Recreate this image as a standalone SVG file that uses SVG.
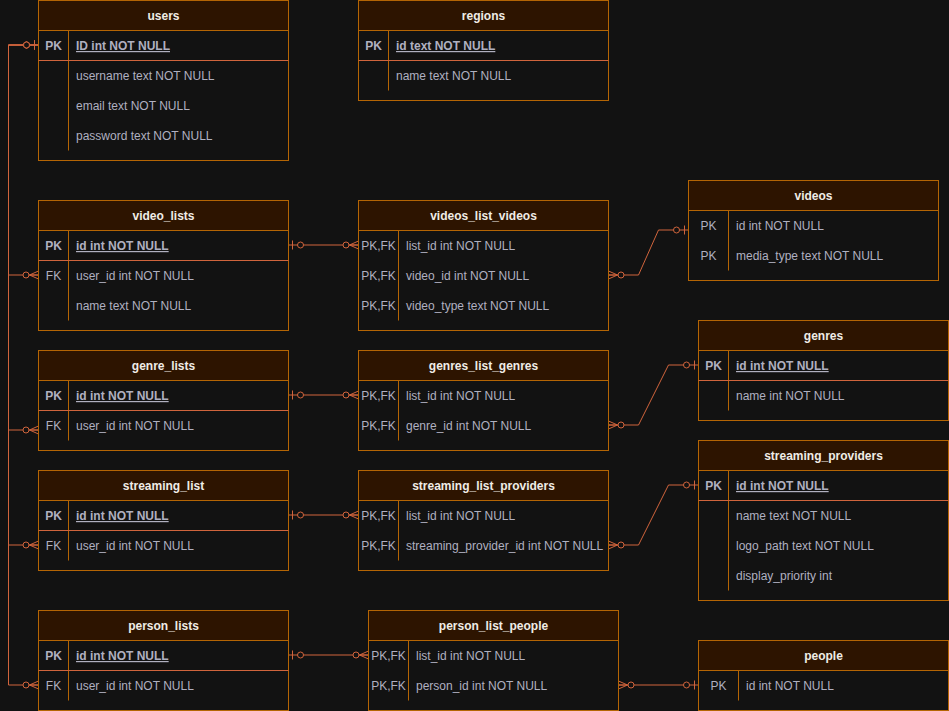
<svg xmlns="http://www.w3.org/2000/svg" width="949" height="711" viewBox="0 0 949 711">
<style>
.bg{fill:#121212}
.tb{fill:#121212;stroke:#b46504;stroke-width:1}
.hd{fill:#2d1400;stroke:#b46504;stroke-width:1}
.dv{stroke:#b46504;stroke-width:1;fill:none}
.sp{stroke:#d0643c;stroke-width:1;fill:none}
.ht{font-family:"Liberation Sans",Arial,sans-serif;font-size:12px;font-weight:bold;fill:#f0ece6;text-anchor:middle}
.t{font-family:"Liberation Sans",Arial,sans-serif;font-size:12px;fill:#b0b0c0}
.k{text-anchor:middle}
.b{font-weight:bold}
.u{text-decoration:underline}
.cn{stroke:#d0643c;stroke-width:1;fill:none;marker-start:url(#zo);marker-end:url(#zm)}
.cn2{stroke:#d0643c;stroke-width:1;fill:none;marker-start:url(#zm);marker-end:url(#zo)}
</style>
<defs>
<marker id="zm" viewBox="-17 -6 18 12" refX="0" refY="0" markerWidth="18" markerHeight="12" markerUnits="userSpaceOnUse" orient="auto-start-reverse">
<path d="M-9,0 L0,-4 M-9,0 L0,4 M-9,0 L0,0" stroke="#d0643c" stroke-width="1" fill="none"/>
<circle cx="-12.5" cy="0" r="3" fill="#121212" stroke="#d0643c" stroke-width="1"/>
</marker>
<marker id="zo" viewBox="-17 -6 18 12" refX="0" refY="0" markerWidth="18" markerHeight="12" markerUnits="userSpaceOnUse" orient="auto-start-reverse">
<path d="M-4,-4.5 L-4,4.5" stroke="#d0643c" stroke-width="1" fill="none"/>
<circle cx="-12" cy="0" r="3" fill="#121212" stroke="#d0643c" stroke-width="1"/>
</marker>
</defs>
<rect class="bg" x="0" y="0" width="949" height="711"/>

<g id="connectors">
<path class="cn" d="M38.5,45 H8.5 V275 H38.5"/>
<path class="cn" d="M38.5,45 H8.5 V430 H38.5"/>
<path class="cn" d="M38.5,45 H8.5 V545 H38.5"/>
<path class="cn" d="M38.5,45 H8.5 V685 H38.5"/>
<path class="cn" d="M288.5,245 H358.5"/>
<path class="cn2" d="M608.5,275 H638.5 L658.5,230 H688.5"/>
<path class="cn" d="M288.5,395 H358.5"/>
<path class="cn2" d="M608.5,425 H638.5 L668.5,365 H698.5"/>
<path class="cn" d="M288.5,515 H358.5"/>
<path class="cn2" d="M608.5,545 H638.5 L668.5,485 H698.5"/>
<path class="cn" d="M288.5,655 H368.5"/>
<path class="cn2" d="M618.5,685 H698.5"/>
</g>

<g id="users">
<rect class="tb" x="38.5" y="0.5" width="250" height="160"/>
<rect class="hd" x="38.5" y="0.5" width="250" height="30"/>
<text class="ht" x="163.5" y="20">users</text>
<line class="dv" x1="68.5" y1="30.5" x2="68.5" y2="150.5"/>
<line class="sp" x1="38.5" y1="60.5" x2="288.5" y2="60.5"/>
<text class="t k b" x="53.5" y="50">PK</text>
<text class="t b u" x="76" y="50">ID int NOT NULL</text>
<text class="t" x="76" y="80">username text NOT NULL</text>
<text class="t" x="76" y="110">email text NOT NULL</text>
<text class="t" x="76" y="140">password text NOT NULL</text>
</g>

<g id="regions">
<rect class="tb" x="358.5" y="0.5" width="250" height="100"/>
<rect class="hd" x="358.5" y="0.5" width="250" height="30"/>
<text class="ht" x="483.5" y="20">regions</text>
<line class="dv" x1="388.5" y1="30.5" x2="388.5" y2="90.5"/>
<line class="sp" x1="358.5" y1="60.5" x2="608.5" y2="60.5"/>
<text class="t k b" x="373.5" y="50">PK</text>
<text class="t b u" x="396" y="50">id text NOT NULL</text>
<text class="t" x="396" y="80">name text NOT NULL</text>
</g>

<g id="videos">
<rect class="tb" x="688.5" y="180.5" width="250" height="100"/>
<rect class="hd" x="688.5" y="180.5" width="250" height="30"/>
<text class="ht" x="813.5" y="200">videos</text>
<line class="dv" x1="728.5" y1="210.5" x2="728.5" y2="270.5"/>
<text class="t k" x="708.5" y="230">PK</text>
<text class="t" x="736" y="230">id int NOT NULL</text>
<text class="t k" x="708.5" y="260">PK</text>
<text class="t" x="736" y="260">media_type text NOT NULL</text>
</g>

<g id="video_lists">
<rect class="tb" x="38.5" y="200.5" width="250" height="130"/>
<rect class="hd" x="38.5" y="200.5" width="250" height="30"/>
<text class="ht" x="163.5" y="220">video_lists</text>
<line class="dv" x1="68.5" y1="230.5" x2="68.5" y2="320.5"/>
<line class="sp" x1="38.5" y1="260.5" x2="288.5" y2="260.5"/>
<text class="t k b" x="53.5" y="250">PK</text>
<text class="t b u" x="76" y="250">id int NOT NULL</text>
<text class="t k" x="53.5" y="280">FK</text>
<text class="t" x="76" y="280">user_id int NOT NULL</text>
<text class="t" x="76" y="310">name text NOT NULL</text>
</g>

<g id="videos_list_videos">
<rect class="tb" x="358.5" y="200.5" width="250" height="130"/>
<rect class="hd" x="358.5" y="200.5" width="250" height="30"/>
<text class="ht" x="483.5" y="220">videos_list_videos</text>
<line class="dv" x1="398.5" y1="230.5" x2="398.5" y2="320.5"/>
<text class="t k" x="378.5" y="250">PK,FK</text>
<text class="t" x="406" y="250">list_id int NOT NULL</text>
<text class="t k" x="378.5" y="280">PK,FK</text>
<text class="t" x="406" y="280">video_id int NOT NULL</text>
<text class="t k" x="378.5" y="310">PK,FK</text>
<text class="t" x="406" y="310">video_type text NOT NULL</text>
</g>

<g id="genres">
<rect class="tb" x="698.5" y="320.5" width="250" height="100"/>
<rect class="hd" x="698.5" y="320.5" width="250" height="30"/>
<text class="ht" x="823.5" y="340">genres</text>
<line class="dv" x1="728.5" y1="350.5" x2="728.5" y2="410.5"/>
<line class="sp" x1="698.5" y1="380.5" x2="948.5" y2="380.5"/>
<text class="t k b" x="713.5" y="370">PK</text>
<text class="t b u" x="736" y="370">id int NOT NULL</text>
<text class="t" x="736" y="400">name int NOT NULL</text>
</g>

<g id="genre_lists">
<rect class="tb" x="38.5" y="350.5" width="250" height="100"/>
<rect class="hd" x="38.5" y="350.5" width="250" height="30"/>
<text class="ht" x="163.5" y="370">genre_lists</text>
<line class="dv" x1="68.5" y1="380.5" x2="68.5" y2="440.5"/>
<line class="sp" x1="38.5" y1="410.5" x2="288.5" y2="410.5"/>
<text class="t k b" x="53.5" y="400">PK</text>
<text class="t b u" x="76" y="400">id int NOT NULL</text>
<text class="t k" x="53.5" y="430">FK</text>
<text class="t" x="76" y="430">user_id int NOT NULL</text>
</g>

<g id="genres_list_genres">
<rect class="tb" x="358.5" y="350.5" width="250" height="100"/>
<rect class="hd" x="358.5" y="350.5" width="250" height="30"/>
<text class="ht" x="483.5" y="370">genres_list_genres</text>
<line class="dv" x1="398.5" y1="380.5" x2="398.5" y2="440.5"/>
<text class="t k" x="378.5" y="400">PK,FK</text>
<text class="t" x="406" y="400">list_id int NOT NULL</text>
<text class="t k" x="378.5" y="430">PK,FK</text>
<text class="t" x="406" y="430">genre_id int NOT NULL</text>
</g>

<g id="streaming_providers">
<rect class="tb" x="698.5" y="440.5" width="250" height="160"/>
<rect class="hd" x="698.5" y="440.5" width="250" height="30"/>
<text class="ht" x="823.5" y="460">streaming_providers</text>
<line class="dv" x1="728.5" y1="470.5" x2="728.5" y2="590.5"/>
<line class="sp" x1="698.5" y1="500.5" x2="948.5" y2="500.5"/>
<text class="t k b" x="713.5" y="490">PK</text>
<text class="t b u" x="736" y="490">id int NOT NULL</text>
<text class="t" x="736" y="520">name text NOT NULL</text>
<text class="t" x="736" y="550">logo_path text NOT NULL</text>
<text class="t" x="736" y="580">display_priority int</text>
</g>

<g id="streaming_list">
<rect class="tb" x="38.5" y="470.5" width="250" height="100"/>
<rect class="hd" x="38.5" y="470.5" width="250" height="30"/>
<text class="ht" x="163.5" y="490">streaming_list</text>
<line class="dv" x1="68.5" y1="500.5" x2="68.5" y2="560.5"/>
<line class="sp" x1="38.5" y1="530.5" x2="288.5" y2="530.5"/>
<text class="t k b" x="53.5" y="520">PK</text>
<text class="t b u" x="76" y="520">id int NOT NULL</text>
<text class="t k" x="53.5" y="550">FK</text>
<text class="t" x="76" y="550">user_id int NOT NULL</text>
</g>

<g id="streaming_list_providers">
<rect class="tb" x="358.5" y="470.5" width="250" height="100"/>
<rect class="hd" x="358.5" y="470.5" width="250" height="30"/>
<text class="ht" x="483.5" y="490">streaming_list_providers</text>
<line class="dv" x1="398.5" y1="500.5" x2="398.5" y2="560.5"/>
<text class="t k" x="378.5" y="520">PK,FK</text>
<text class="t" x="406" y="520">list_id int NOT NULL</text>
<text class="t k" x="378.5" y="550">PK,FK</text>
<text class="t" x="406" y="550">streaming_provider_id int NOT NULL</text>
</g>

<g id="person_lists">
<rect class="tb" x="38.5" y="610.5" width="250" height="100"/>
<rect class="hd" x="38.5" y="610.5" width="250" height="30"/>
<text class="ht" x="163.5" y="630">person_lists</text>
<line class="dv" x1="68.5" y1="640.5" x2="68.5" y2="700.5"/>
<line class="sp" x1="38.5" y1="670.5" x2="288.5" y2="670.5"/>
<text class="t k b" x="53.5" y="660">PK</text>
<text class="t b u" x="76" y="660">id int NOT NULL</text>
<text class="t k" x="53.5" y="690">FK</text>
<text class="t" x="76" y="690">user_id int NOT NULL</text>
</g>

<g id="person_list_people">
<rect class="tb" x="368.5" y="610.5" width="250" height="100"/>
<rect class="hd" x="368.5" y="610.5" width="250" height="30"/>
<text class="ht" x="493.5" y="630">person_list_people</text>
<line class="dv" x1="408.5" y1="640.5" x2="408.5" y2="700.5"/>
<text class="t k" x="388.5" y="660">PK,FK</text>
<text class="t" x="416" y="660">list_id int NOT NULL</text>
<text class="t k" x="388.5" y="690">PK,FK</text>
<text class="t" x="416" y="690">person_id int NOT NULL</text>
</g>

<g id="people">
<rect class="tb" x="698.5" y="640.5" width="250" height="70"/>
<rect class="hd" x="698.5" y="640.5" width="250" height="30"/>
<text class="ht" x="823.5" y="660">people</text>
<line class="dv" x1="738.5" y1="670.5" x2="738.5" y2="700.5"/>
<text class="t k" x="718.5" y="690">PK</text>
<text class="t" x="746" y="690">id int NOT NULL</text>
</g>
</svg>
